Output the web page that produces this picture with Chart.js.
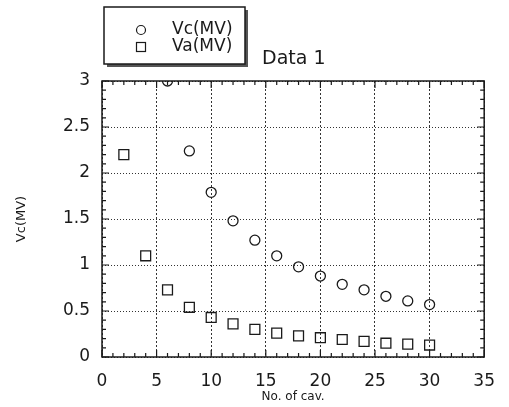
<!DOCTYPE html>
<html>
<head>
<meta charset="utf-8">
<script src="https://cdn.jsdelivr.net/npm/chart.js@4"></script>
<style>
  html, body { margin: 0; padding: 0; background: #fff; }
  #wrap { width: 509px; height: 407px; }
</style>
</head>
<body>
<div id="wrap"><canvas id="myChart" width="509" height="407"></canvas></div>
<script>
const cav = [2, 4, 6, 8, 10, 12, 14, 16, 18, 20, 22, 24, 26, 28, 30];
const vc = [null, null, 3.0, 2.24, 1.79, 1.48, 1.27, 1.10, 0.98, 0.88, 0.79, 0.73, 0.66, 0.61, 0.57];
const va = [2.20, 1.10, 0.73, 0.54, 0.43, 0.36, 0.30, 0.26, 0.23, 0.21, 0.19, 0.17, 0.15, 0.14, 0.13];
const xTicks = [0, 5, 10, 15, 20, 25, 30, 35];
const yTicks = [0, 0.5, 1, 1.5, 2, 2.5, 3];
const seriesNames = ['Vc(MV)', 'Va(MV)'];
const titleText = 'Data 1';

const ink = '#1a1a1a';

// frame, inward ticks, legend box and title
const decor = {
    id: 'decor',
    afterDraw(chart) {
        const ctx = chart.ctx;
        const a = chart.chartArea;
        const xs = chart.scales.x, ys = chart.scales.y;
        ctx.save();
        ctx.strokeStyle = ink;
        ctx.lineWidth = 1.5;
        ctx.strokeRect(a.left, a.top, a.right - a.left, a.bottom - a.top);

        ctx.lineWidth = 1.2;
        ctx.beginPath();
        for (let i = 0; i <= 35; i++) {
            const px = xs.getPixelForValue(i);
            const len = i % 5 === 0 ? 7 : 4;
            ctx.moveTo(px, a.bottom); ctx.lineTo(px, a.bottom - len);
            ctx.moveTo(px, a.top); ctx.lineTo(px, a.top + len);
        }
        for (let i = 0; i <= 30; i++) {
            const py = ys.getPixelForValue(i / 10);
            const len = i % 5 === 0 ? 7 : 4;
            ctx.moveTo(a.left, py); ctx.lineTo(a.left + len, py);
            ctx.moveTo(a.right, py); ctx.lineTo(a.right - len, py);
        }
        ctx.stroke();

        // legend box with shadow
        ctx.fillStyle = '#555';
        ctx.fillRect(107, 10, 141, 57);
        ctx.fillStyle = '#fff';
        ctx.fillRect(104, 7, 141, 57);
        ctx.lineWidth = 1.5;
        ctx.strokeRect(104, 7, 141, 57);

        ctx.lineWidth = 1.2;
        ctx.beginPath();
        ctx.arc(141, 30, 4.5, 0, Math.PI * 2);
        ctx.stroke();
        ctx.strokeRect(136.5, 42.5, 9, 9);

        ctx.fillStyle = ink;
        ctx.font = '17px "DejaVu Sans"';
        ctx.textBaseline = 'middle';
        ctx.textAlign = 'left';
        ctx.fillText(seriesNames[0], 172, 30);
        ctx.fillText(seriesNames[1], 172, 47);

        ctx.font = '19px "DejaVu Sans"';
        ctx.fillText(titleText, 262, 59);
        ctx.restore();
    }
};

const data = {
    datasets: [{
        label: seriesNames[0],
        data: cav.map((x, i) => ({x: x, y: vc[i]})),
        pointStyle: 'circle',
        pointRadius: 5,
        borderColor: ink,
        backgroundColor: 'rgba(255,255,255,0)',
        borderWidth: 1.3,
        showLine: false
    }, {
        label: seriesNames[1],
        data: cav.map((x, i) => ({x: x, y: va[i]})),
        pointStyle: 'rect',
        pointRadius: 7,
        borderColor: ink,
        backgroundColor: 'rgba(255,255,255,0)',
        borderWidth: 1.3,
        showLine: false
    }]
};

const config = {
    type: 'scatter',
    data: data,
    options: {
        responsive: false,
        animation: false,
        layout: { padding: { top: 81, right: 16, left: 0, bottom: 0 } },
        plugins: {
            legend: { display: false },
            title: { display: false },
            tooltip: { enabled: false }
        },
        scales: {
            x: {
                type: 'linear',
                min: 0, max: 35,
                afterBuildTicks: s => { s.ticks = xTicks.map(v => ({value: v})); },
                afterFit: s => { s.height = 50; },
                grid: { color: '#333', lineWidth: 1, drawTicks: false },
                border: { display: false, dash: [2, 2] },
                ticks: { color: ink, padding: 14, font: { family: 'DejaVu Sans', size: 17 },
                         callback: v => String(v) },
                title: {
                    display: true, text: 'No. of cav.', color: ink,
                    font: { family: 'DejaVu Sans', size: 12 },
                    padding: { top: 0, bottom: 3 }
                }
            },
            y: {
                type: 'linear',
                min: 0, max: 3,
                afterBuildTicks: s => { s.ticks = yTicks.map(v => ({value: v})); },
                afterFit: s => { s.width = 102; },
                grid: { color: '#333', lineWidth: 1, drawTicks: false },
                border: { display: false, dash: [1, 2] },
                ticks: { color: ink, padding: 12, font: { family: 'DejaVu Sans', size: 17 },
                         callback: v => String(v) },
                title: {
                    display: true, text: 'Vc(MV)', color: ink,
                    font: { family: 'DejaVu Sans', size: 13 },
                    padding: { top: 14, bottom: 0 }
                }
            }
        }
    },
    plugins: [decor]
};

const myChart = new Chart(document.getElementById('myChart'), config);
</script>
</body>
</html>
